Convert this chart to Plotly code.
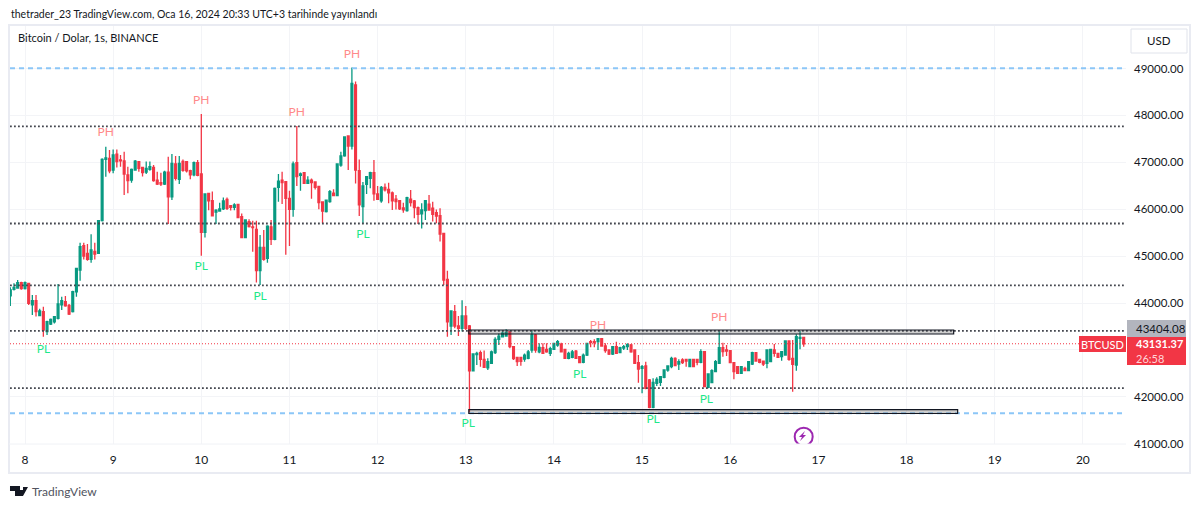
import pandas as pd
import plotly.graph_objects as go

W, H = 1200, 507
FONT = "Lato"
TEXT = "#131722"
UP = "#089981"
DOWN = "#F23645"

# hourly candles, first one at 2024-01-07 20:00
opens = [
    44150, 44290, 44320, 44435, 44305, 44420, 43960, 44050, 43730, 43815,
    43390, 43550, 43600, 43675, 43960, 44030, 43950, 43815, 44240, 44703,
    45222, 45060, 44930, 45100, 45060, 45755, 47065, 47085, 46835, 47175,
    47050, 47030, 46730, 46620, 46835, 47015, 46890, 46790, 46850, 46890,
    46620, 46565, 46535, 46790, 46265, 46965, 46635, 47020, 47012, 46820,
    46730, 46990, 46750, 45505, 46335, 46180, 45940, 45960, 46005, 46210,
    46075, 46040, 46100, 45840, 45395, 45735, 45625, 45570, 44690, 45185,
    44950, 45625, 45355, 46465, 46620, 46585, 46230, 45995, 46990, 46720,
    46780, 46550, 46620, 46580, 46485, 46155, 45947, 46160, 46340, 46290,
    46940, 47135, 47560, 47345, 48650, 46820, 46055, 46530, 46660, 46780,
    46325, 46180, 46465, 46420, 46350, 46215, 46180, 46025, 45970, 46215,
    46175, 46035, 45900, 45970, 46110, 46020, 45925, 45860, 45485, 44505,
    43510, 43815, 43510, 43460, 43725, 43510, 42555, 42900, 42940, 42800,
    42615, 42715, 42940, 43225, 43280, 43295, 43390, 43070, 42840, 42840,
    42805, 42820, 42998, 43318, 42960, 43050, 43010, 42927, 43012, 43105,
    43125, 43010, 42820, 42840, 42975, 42855, 42735, 42890, 43175, 43175,
    43175, 43240, 43083, 42998, 42913, 43069, 42940, 43040, 43069, 43105,
    42998, 42728, 42607, 42657, 42358, 41775, 42287, 42308, 42415, 42572,
    42643, 42820, 42699, 42785, 42799, 42643, 42799, 42799, 42735, 42962,
    42202, 42301, 42536, 42714, 43048, 42998, 42984, 42728, 42643, 42500,
    42607, 42557, 42699, 42941, 42799, 42763, 42714, 42749, 42998, 42927,
    42856, 42891, 43190, 42820, 42678, 43247, 43268,
]
highs = [
    44335, 44420, 44490, 44455, 44460, 44430, 44170, 44170, 43875, 43920,
    43620, 43670, 43725, 44405, 44135, 44150, 43980, 44260, 44750, 45285,
    45285, 45260, 45465, 45285, 45755, 47085, 47330, 47262, 47275, 47275,
    47155, 47225, 46905, 46870, 47050, 47030, 46905, 47015, 47015, 46940,
    46800, 46775, 46820, 47120, 47175, 47135, 47135, 47060, 47030, 46840,
    47015, 47050, 48030, 46325, 46340, 46375, 46000, 46140, 46250, 46250,
    46090, 46125, 46110, 45910, 45785, 45785, 45755, 45755, 45450, 45556,
    45660, 45770, 46465, 46750, 46800, 46590, 46395, 47015, 47775, 46780,
    46795, 46705, 46655, 46580, 46490, 46160, 46200, 46410, 46425, 46980,
    47225, 47555, 47565, 49020, 48720, 47060, 46580, 46710, 46800, 47050,
    46495, 46495, 46550, 46565, 46375, 46300, 46195, 46140, 46265, 46410,
    46195, 46055, 46125, 46195, 46300, 46160, 45995, 46020, 45500, 44690,
    43830, 43960, 43725, 44060, 43935, 43530, 42930, 42960, 42990, 42990,
    42820, 42985, 43268, 43350, 43425, 43440, 43403, 43070, 42855, 42855,
    42925, 42998, 43410, 43340, 43140, 43140, 43140, 43070, 43155, 43211,
    43155, 43025, 42960, 42998, 42998, 42870, 42925, 43155, 43211, 43225,
    43250, 43250, 43140, 43012, 43083, 43175, 43069, 43105, 43140, 43125,
    43012, 42890, 42678, 42750, 42380, 42394, 42415, 42444, 42586, 42671,
    42856, 42842, 42799, 42820, 42813, 42806, 42806, 42806, 43012, 42969,
    42500, 42586, 42785, 43403, 43154, 43105, 42998, 42728, 42657, 42657,
    42643, 42763, 42962, 42955, 42813, 42770, 43012, 43019, 43126, 42941,
    42977, 43197, 43197, 43211, 43332, 43403, 43268,
]
lows = [
    43935, 44265, 44305, 44280, 44290, 43955, 43745, 43710, 43720, 43280,
    43320, 43530, 43565, 43650, 43850, 43920, 43745, 43795, 44135, 44475,
    44930, 44900, 44860, 44930, 45050, 45735, 46693, 46765, 46765, 46890,
    46905, 46300, 46340, 46565, 46820, 46800, 46695, 46750, 46820, 46585,
    46515, 46495, 46515, 45685, 46195, 46610, 46535, 46800, 46780, 46640,
    46700, 46700, 45010, 45395, 45980, 45860, 45685, 45945, 45985, 45985,
    45970, 45980, 45805, 45395, 45380, 45610, 45095, 44435, 44385, 44900,
    44860, 45235, 45340, 46160, 46110, 45030, 45215, 45840, 46495, 46395,
    46535, 46535, 46225, 46420, 46000, 45700, 45930, 46140, 46285, 46285,
    46905, 47120, 46835, 47275, 46550, 45855, 45685, 46325, 46445, 46180,
    46195, 46140, 46375, 46125, 45985, 45995, 45985, 45925, 45945, 46055,
    45805, 45685, 45590, 45770, 45970, 45735, 45700, 45310, 44385, 43280,
    43320, 43460, 43295, 43390, 43425, 41650, 42545, 42680, 42640, 42615,
    42570, 42700, 42913, 43105, 43270, 43280, 43035, 42785, 42655, 42660,
    42750, 42800, 42940, 42940, 42927, 42913, 42940, 42870, 42998, 43069,
    42948, 42805, 42800, 42820, 42805, 42714, 42714, 42870, 43055, 43055,
    42998, 43069, 42940, 42890, 42890, 42913, 42927, 42998, 42998, 42940,
    42700, 42300, 42074, 42160, 41755, 41755, 42230, 42230, 42394, 42536,
    42607, 42657, 42572, 42699, 42643, 42628, 42628, 42671, 42714, 42202,
    42181, 42287, 42522, 42699, 42856, 42870, 42714, 42372, 42486, 42486,
    42543, 42543, 42678, 42749, 42714, 42657, 42607, 42735, 42856, 42827,
    42771, 42877, 42771, 42110, 42557, 43012, 43069,
]
closes = [
    44280, 44335, 44435, 44305, 44435, 43995, 44050, 43815, 43830, 43424,
    43600, 43650, 43710, 43980, 44050, 43940, 43765, 44240, 44740, 45200,
    45000, 44930, 45130, 45045, 45755, 47063, 47095, 46820, 47155, 47015,
    47030, 46750, 46610, 46850, 47025, 46870, 46780, 46870, 46905, 46610,
    46535, 46535, 46790, 46265, 46978, 46657, 46978, 46830, 46820, 46730,
    46990, 46720, 45505, 46325, 46180, 45860, 45980, 46005, 46175, 46020,
    46040, 46090, 45820, 45395, 45770, 45630, 45605, 44690, 45185, 44930,
    45640, 45355, 46445, 46600, 46565, 46230, 45995, 46965, 46693, 46750,
    46550, 46620, 46565, 46465, 46140, 45960, 46195, 46375, 46290, 46965,
    47135, 47540, 47345, 48683, 46835, 46090, 46495, 46693, 46780, 46325,
    46210, 46465, 46410, 46350, 46180, 46160, 46005, 45985, 46245, 46140,
    46035, 45890, 45983, 46180, 45983, 45890, 45855, 45470, 44490, 43600,
    43830, 43510, 43460, 43725, 43460, 42555, 42913, 42925, 42800, 42630,
    42750, 42960, 43225, 43295, 43355, 43375, 43070, 42815, 42750, 42755,
    42890, 42960, 43318, 42998, 43055, 42927, 42960, 43025, 43140, 43175,
    42960, 42820, 42927, 42960, 42820, 42728, 42890, 43140, 43160, 43155,
    43240, 43083, 42985, 42913, 43069, 42927, 43048, 43069, 43110, 42960,
    42714, 42593, 42643, 42181, 41775, 42308, 42372, 42430, 42572, 42657,
    42820, 42664, 42749, 42728, 42763, 42799, 42643, 42735, 42962, 42216,
    42486, 42557, 42749, 43048, 42962, 42977, 42728, 42536, 42500, 42643,
    42557, 42749, 42941, 42763, 42735, 42699, 42998, 43012, 42927, 42842,
    42962, 43190, 42799, 42692, 43282, 43268, 43131,
]
n = min(len(opens), len(highs), len(lows), len(closes))
hours = pd.date_range("2024-01-07 20:00", periods=n, freq="h")

# pivot labels
ph_times = ["2024-01-08 22:00", "2024-01-10 00:00", "2024-01-11 02:00", "2024-01-11 17:00",
            "2024-01-14 12:00", "2024-01-15 21:00"]
ph_prices = [47625, 48307, 48051, 49288, 43510, 43680]
pl_times = ["2024-01-08 05:00", "2024-01-10 00:00", "2024-01-10 16:00", "2024-01-11 20:00",
            "2024-01-13 00:40", "2024-01-14 07:00", "2024-01-15 03:00", "2024-01-15 17:30"]
pl_prices = [42998, 44768, 44128, 45450, 41420, 42466, 41505, 41932]

dotted_levels = [47765, 45695, 44375, 43404, 42187]
blue_levels = [49005, 41650]
boxes = [(43424, 43339, "2024-01-13 00:50", "2024-01-18 12:50"),
         (41729, 41644, "2024-01-13 00:50", "2024-01-18 13:55")]
last_price = 43131.37
top_level_label = "43404.08"
price_ticks = [41000, 42000, 43000, 44000, 45000, 46000, 47000, 48000, 49000]
day_labels = [8, 9, 10, 11, 12, 13, 14, 15, 16, 17, 18, 19, 20]
day_ticks = [f"2024-01-{d:02d}" for d in day_labels]
x_start, x_end = "2024-01-07 19:55", "2024-01-20 11:45"

def px_x(x):
    return x / W

def px_y(y):
    return 1 - y / H

def rect(x0, y0, x1, y1, fill=None, line=None, width=1):
    return dict(type="rect", xref="paper", yref="paper", x0=px_x(x0), x1=px_x(x1),
                y0=px_y(y0), y1=px_y(y1), fillcolor=fill or "rgba(0,0,0,0)",
                line=dict(color=line or "rgba(0,0,0,0)", width=width if line else 0))

def label(x, y, text, size=11, color=TEXT, anchor="center"):
    return dict(xref="paper", yref="paper", x=px_x(x), y=px_y(y), text=text, showarrow=False,
                xanchor=anchor, yanchor="middle", borderpad=0,
                font=dict(family=FONT, size=size, color=color))

def poly(points, color):
    path = "M" + " L".join(f"{px_x(x):.5f},{px_y(y):.5f}" for x, y in points) + " Z"
    return dict(type="path", xref="paper", yref="paper", path=path, fillcolor=color, line=dict(width=0))

fig = go.Figure()
fig.add_trace(go.Candlestick(
    x=hours, open=opens[:n], high=highs[:n], low=lows[:n], close=closes[:n],
    increasing=dict(line=dict(color=UP, width=1.3), fillcolor=UP),
    decreasing=dict(line=dict(color=DOWN, width=1.3), fillcolor=DOWN),
    whiskerwidth=0, showlegend=False,
))
fig.add_trace(go.Scatter(x=ph_times, y=ph_prices, mode="text", text=["PH"] * len(ph_times),
                         textposition="middle center", showlegend=False,
                         textfont=dict(family=FONT, size=12, color="#FF8A8A")))
fig.add_trace(go.Scatter(x=pl_times, y=pl_prices, mode="text", text=["PL"] * len(pl_times),
                         textposition="middle center", showlegend=False,
                         textfont=dict(family=FONT, size=12, color="#1FE88A")))
# signal icon under the last candle
fig.add_trace(go.Scatter(x=["2024-01-16 20:00"], y=[41150], mode="markers", showlegend=False,
                         marker=dict(symbol="circle-open", size=18, color="#9C27B0", line=dict(width=2))))

shapes = []
for lvl in dotted_levels:
    shapes.append(dict(type="line", xref="x", yref="y", x0=x_start, x1=x_end, y0=lvl, y1=lvl,
                       line=dict(color="#44474F", width=1.8, dash="1.8px 2.2px")))
for lvl in blue_levels:
    shapes.append(dict(type="line", xref="x", yref="y", x0=x_start, x1=x_end, y0=lvl, y1=lvl,
                       line=dict(color="#8CC6F7", width=2, dash="5px 4px")))
shapes.append(dict(type="line", xref="x", yref="y", x0=x_start, x1=x_end, y0=last_price, y1=last_price,
                   line=dict(color=DOWN, width=1, dash="1px 2px")))
for top, bottom, left, right in boxes:
    shapes.append(dict(type="rect", xref="x", yref="y", x0=left, x1=right, y0=bottom, y1=top,
                       line=dict(color="#131722", width=1.2), fillcolor="rgba(90,90,90,0.3)"))

# chart frame, price tags, USD button, logo, bolt
shapes += [
    rect(9, 25, 1190, 473, line="#E9EBF2", width=2),
    dict(type="line", xref="paper", yref="paper", x0=px_x(9), x1=px_x(1126), y0=px_y(444), y1=px_y(444),
         line=dict(color="#F0F2F6", width=1)),
    rect(1127, 320, 1186, 337, fill="#B2B5BE"),
    rect(1127, 337, 1186, 365, fill=DOWN),
    rect(1079, 336, 1126, 352, fill=DOWN),
    rect(1131, 29, 1187, 53, line="#E0E3EB", width=1),
    poly([(10, 486), (20, 486), (20, 496), (15, 496), (15, 491), (10, 491)], "#131722"),
    poly([(20, 490), (23, 490), (23, 487), (28, 487), (23, 496), (20, 496)], "#131722"),
    poly([(805, 431), (799, 437), (802, 437), (800, 441), (806, 435), (803, 435)], "#9C27B0"),
]

annotations = [
    label(10, 14, "thetrader_23 TradingView.com, Oca 16, 2024 20:33 UTC+3 tarihinde yayınlandı", size=10.5, anchor="left"),
    label(17, 38, "Bitcoin / Dolar, 1s, BINANCE", size=11, anchor="left"),
    label(1159, 41, "USD", size=11.5),
    label(1135, 328, top_level_label, size=11.5, anchor="left"),
    label(1135, 343, f"<b>{last_price:.2f}</b>", size=11, color="white", anchor="left"),
    label(1135, 358.5, "26:58", size=11, color="#FFD5D8", anchor="left"),
    label(1102, 344, "BTCUSD", size=11, color="white"),
    label(31, 491, "TradingView", size=12, color="#50535E", anchor="left"),
]

fig.update_layout(
    width=W, height=H, margin=dict(l=0, r=0, t=0, b=0, autoexpand=False),
    paper_bgcolor="white", plot_bgcolor="white", showlegend=False,
    font=dict(family=FONT, size=12, color=TEXT),
    shapes=shapes, annotations=annotations,
    xaxis=dict(domain=[px_x(10), px_x(1126)], type="date", range=[x_start, x_end],
               tickvals=day_ticks, ticktext=[str(d) for d in day_labels], showgrid=True,
               gridcolor="#F3F4F7", zeroline=False, showline=False, ticks="", ticklabelstandoff=7,
               rangeslider=dict(visible=False), tickfont=dict(family=FONT, size=12, color=TEXT)),
    yaxis=dict(domain=[px_y(444), px_y(25)], side="right", range=[40994, 49927],
               tickvals=price_ticks, tickformat=".2f", showgrid=True, gridcolor="#F3F4F7",
               zeroline=False, showline=False, ticks="", ticklabelstandoff=7,
               tickfont=dict(family=FONT, size=11.5, color=TEXT)),
)

fig.write_html("out.html", config={"displayModeBar": False},
               post_script="document.body.style.margin='0';")
